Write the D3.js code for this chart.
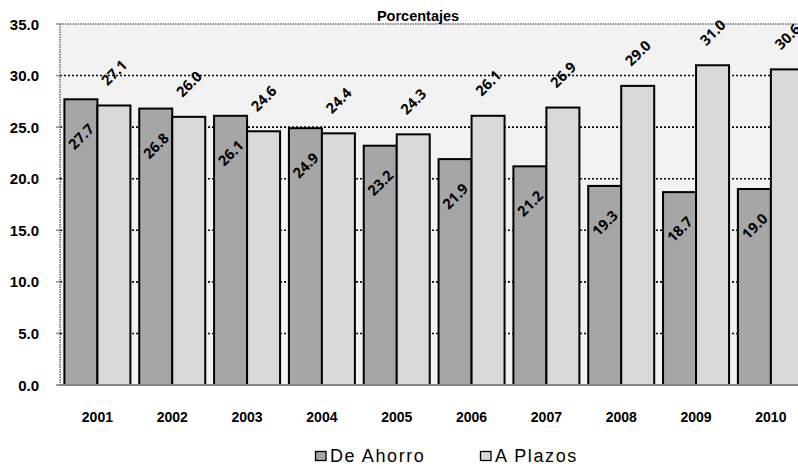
<!DOCTYPE html>
<html>
<head>
<meta charset="utf-8">
<script src="https://cdn.jsdelivr.net/npm/d3@7/dist/d3.min.js"></script>
<style>
  html, body { margin: 0; padding: 0; background: #ffffff; }
  svg { display: block; }
</style>
</head>
<body>
<svg id="chart" width="798" height="469"></svg>
<script>
// Porcentajes por año: De Ahorro vs A Plazos
const years = ["2001","2002","2003","2004","2005","2006","2007","2008","2009","2010"];
const deAhorro = [27.7, 26.8, 26.1, 24.9, 23.2, 21.9, 21.2, 19.3, 18.7, 19.0];
const aPlazos  = [27.1, 26.0, 24.6, 24.4, 24.3, 26.1, 26.9, 29.0, 31.0, 30.6];
const seriesNames = ["De Ahorro", "A Plazos"];
const yTicks = [0, 5, 10, 15, 20, 25, 30, 35];

const colors = { "De Ahorro": "#a6a6a6", "A Plazos": "#d9d9d9" };

const svg = d3.select("#chart");

const plot = { left: 60, top: 24, bottom: 385, step: 74.83 };
plot.right = plot.left + plot.step * years.length;

const groupW = 66;
const pad = 1 - groupW / plot.step;

const x0 = d3.scaleBand()
  .domain(years)
  .range([plot.left, plot.right])
  .paddingInner(pad)
  .paddingOuter(pad / 2);

const x1 = d3.scaleBand()
  .domain(seriesNames)
  .range([0, x0.bandwidth()]);

const y = d3.scaleLinear().domain([0, 35]).range([plot.bottom, plot.top]);

const data = years.map((yr, i) => ({
  year: yr,
  values: [
    { name: "De Ahorro", value: deAhorro[i] },
    { name: "A Plazos", value: aPlazos[i] }
  ]
}));

const sans = "'Liberation Sans', Arial, sans-serif";

// plot area background
svg.append("rect")
  .attr("x", plot.left).attr("y", plot.top)
  .attr("width", plot.right - plot.left).attr("height", plot.bottom - plot.top)
  .attr("fill", "#f2f2f2");

// dotted gridlines
svg.append("g")
  .selectAll("line")
  .data(yTicks.filter(t => t > 0 && t < 35))
  .join("line")
  .attr("x1", plot.left).attr("x2", plot.right)
  .attr("y1", d => y(d)).attr("y2", d => y(d))
  .attr("stroke", "#000")
  .attr("stroke-width", 1.6)
  .attr("stroke-dasharray", "2,2");

// top and left borders (grey dotted)
svg.append("line")
  .attr("x1", plot.left).attr("x2", plot.right)
  .attr("y1", y(35)).attr("y2", y(35))
  .attr("stroke", "#8c8c8c").attr("stroke-width", 2)
  .attr("stroke-dasharray", "1.5,1");
svg.append("line")
  .attr("x1", plot.left).attr("x2", plot.left)
  .attr("y1", plot.top).attr("y2", plot.bottom)
  .attr("stroke", "#8c8c8c").attr("stroke-width", 2)
  .attr("stroke-dasharray", "1.5,1");

// bars
const groups = svg.append("g")
  .selectAll("g")
  .data(data)
  .join("g")
  .attr("transform", d => `translate(${x0(d.year)},0)`);

groups.selectAll("rect")
  .data(d => d.values)
  .join("rect")
  .attr("x", d => x1(d.name))
  .attr("y", d => y(d.value))
  .attr("width", x1.bandwidth())
  .attr("height", d => y(0) - y(d.value))
  .attr("fill", d => colors[d.name])
  .attr("stroke", "#000")
  .attr("stroke-width", 2);

// value labels, rotated
groups.selectAll("text")
  .data(d => d.values)
  .join("text")
  .attr("transform", d => {
    const cx = x1(d.name) + x1.bandwidth() / 2;
    const cy = d.name === "De Ahorro" ? y(d.value) + 37 : y(d.value) - 33;
    return `translate(${cx},${cy}) rotate(-45)`;
  })
  .attr("text-anchor", "middle")
  .attr("dominant-baseline", "central")
  .attr("font-family", "'Open Sans', sans-serif")
  .attr("font-weight", 700)
  .attr("font-size", 14.5)
  .attr("fill", "#000")
  .text(d => d.value.toFixed(1));

// bottom axis line
svg.append("line")
  .attr("x1", plot.left - 2).attr("x2", plot.right)
  .attr("y1", plot.bottom).attr("y2", plot.bottom)
  .attr("stroke", "#868686").attr("stroke-width", 2.2);

// y axis labels and small ticks
const yAxis = svg.append("g");
yAxis.selectAll("line")
  .data(yTicks)
  .join("line")
  .attr("x1", plot.left - 4).attr("x2", plot.left)
  .attr("y1", d => y(d)).attr("y2", d => y(d))
  .attr("stroke", "#8c8c8c").attr("stroke-width", 1.5);
yAxis.selectAll("text")
  .data(yTicks)
  .join("text")
  .attr("x", 39)
  .attr("y", d => y(d))
  .attr("text-anchor", "end")
  .attr("dominant-baseline", "central")
  .attr("font-family", sans)
  .attr("font-weight", 700)
  .attr("font-size", 15)
  .attr("fill", "#000")
  .text(d => d.toFixed(1));

// x axis labels
svg.append("g")
  .selectAll("text")
  .data(years)
  .join("text")
  .attr("x", d => x0(d) + x0.bandwidth() / 2)
  .attr("y", 422)
  .attr("text-anchor", "middle")
  .attr("font-family", sans)
  .attr("font-weight", 700)
  .attr("font-size", 14)
  .attr("fill", "#000")
  .text(d => d);

// title
svg.append("text")
  .attr("x", 418).attr("y", 21)
  .attr("text-anchor", "middle")
  .attr("font-family", sans)
  .attr("font-weight", 700)
  .attr("font-size", 14.5)
  .attr("fill", "#000")
  .text("Porcentajes");

// legend
const legendItems = [
  { name: "De Ahorro", x: 315 },
  { name: "A Plazos", x: 480 }
];
const li = svg.append("g")
  .selectAll("g")
  .data(legendItems)
  .join("g")
  .attr("transform", d => `translate(${d.x},0)`);
li.append("rect")
  .attr("x", 0.5).attr("y", 451.5)
  .attr("width", 10.5).attr("height", 9)
  .attr("fill", d => colors[d.name])
  .attr("stroke", "#000")
  .attr("stroke-width", 1.3);
li.append("text")
  .attr("x", 15).attr("y", 462)
  .attr("font-family", sans)
  .attr("font-size", 18)
  .attr("letter-spacing", 1.6)
  .attr("fill", "#000")
  .text(d => d.name);
</script>
</body>
</html>
